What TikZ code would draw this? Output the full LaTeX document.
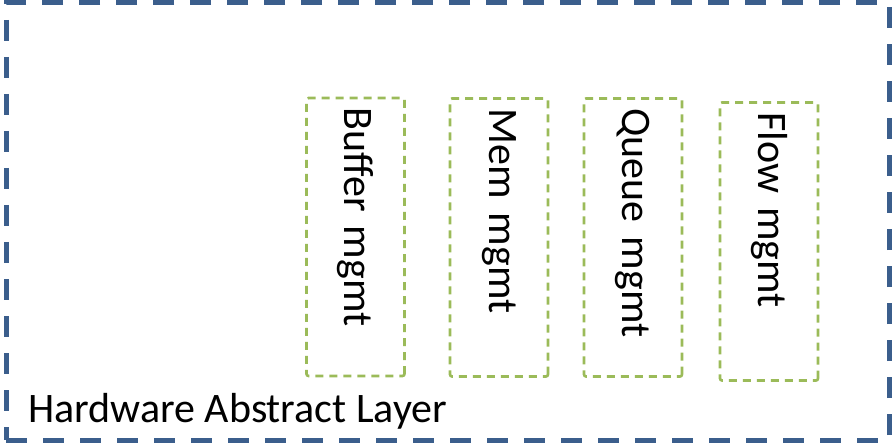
\documentclass[tikz,border=0pt]{standalone}
\usepackage{fontspec}
\setmainfont{Carlito}
\usetikzlibrary{positioning}

\definecolor{halblue}{RGB}{59,94,140}
\definecolor{mgmtgreen}{RGB}{155,187,89}

\begin{document}
\begin{tikzpicture}[
  x=1pt, y=-1pt,
  font=\fontsize{42}{50}\selectfont,
  halbox/.style={draw=halblue, line width=5pt, dash pattern=on 21pt off 16pt, minimum width=883pt, minimum height=437pt, inner sep=0pt},
  mgmt/.style={draw=mgmtgreen, line width=2.6pt, dash pattern=on 8pt off 6pt, rounded corners=2pt,
    rotate=-90, text width=258pt, align=left, inner xsep=10pt, inner ysep=0pt,
    minimum width=278pt, minimum height=98pt}]
\useasboundingbox (0,0) rectangle (893,446);
\node[halbox] (hal) at (447.5,221.5) {};
\node[anchor=base west, inner sep=0pt] (hallabel) at (28,422) {Hardware Abstract Layer};
% management blocks, text runs top to bottom
\node[mgmt] (buffer) at (355.5,237) {Buffer mgmt};
\node[mgmt] (mem) at (499,237.5) {Mem mgmt};
\node[mgmt] (queue) at (633,237.5) {Queue mgmt};
\node[mgmt] (flow) at (769,241.5) {Flow mgmt};
\end{tikzpicture}
\end{document}
